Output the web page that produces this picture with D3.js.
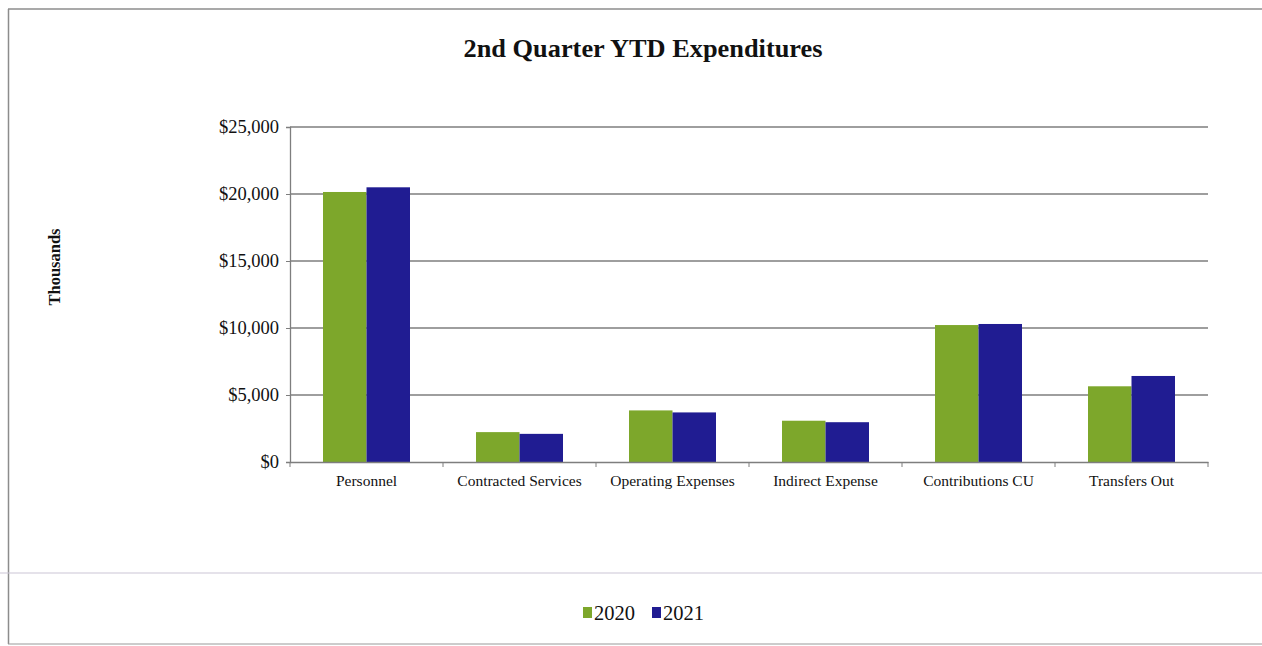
<!DOCTYPE html>
<html>
<head>
<meta charset="utf-8">
<script src="https://cdn.jsdelivr.net/npm/d3@7"></script>
<style>
  html, body { margin: 0; padding: 0; background: #ffffff; }
  svg { display: block; }
  text { font-family: "Liberation Serif", "Times New Roman", serif; fill: #111; }
</style>
</head>
<body>
<svg id="chart" width="1262" height="646"></svg>
<script>
// Expenditure categories and year-to-date totals (in thousands of dollars)
const categories = ["Personnel", "Contracted Services", "Operating Expenses", "Indirect Expense", "Contributions CU", "Transfers Out"];
const seriesNames = ["2020", "2021"];
const values2020 = [20150, 2230, 3850, 3080, 10220, 5650];
const values2021 = [20500, 2100, 3700, 2970, 10300, 6420];
const yTicks = [0, 5000, 10000, 15000, 20000, 25000];
const colors = ["#7da72b", "#201c92"];

const svg = d3.select("#chart");
const W = 1262, H = 646;

// Outer frame and legend separator
svg.append("line").attr("x1", 8).attr("x2", W).attr("y1", 9).attr("y2", 9)
  .attr("stroke", "#8c8c8c").attr("stroke-width", 1.5);
svg.append("line").attr("x1", 8.5).attr("x2", 8.5).attr("y1", 9).attr("y2", 644)
  .attr("stroke", "#8c8c8c").attr("stroke-width", 1.5);
svg.append("line").attr("x1", 8).attr("x2", W).attr("y1", 644).attr("y2", 644)
  .attr("stroke", "#9a9a9a").attr("stroke-width", 1.2);
svg.append("line").attr("x1", 0).attr("x2", W).attr("y1", 573).attr("y2", 573)
  .attr("stroke", "#cbc6d6").attr("stroke-width", 1.2);

const plot = { left: 290, right: 1208, top: 127, bottom: 462 };

const x0 = d3.scaleBand().domain(categories).range([plot.left, plot.right]).padding(0);
const groupW = 87;
const x1 = d3.scaleBand().domain(seriesNames).range([0, groupW]).padding(0);
const y = d3.scaleLinear().domain([0, 25000]).range([plot.bottom, plot.top]);

// Horizontal gridlines
svg.append("g").selectAll("line").data(yTicks.filter(d => d > 0)).join("line")
  .attr("x1", plot.left).attr("x2", plot.right)
  .attr("y1", d => y(d)).attr("y2", d => y(d))
  .attr("stroke", "#7e7e7e").attr("stroke-width", 1.3);

// Y axis
const yAxis = d3.axisLeft(y).tickValues(yTicks).tickSize(4).tickPadding(7)
  .tickFormat(d => "$" + d3.format(",")(d));
const gy = svg.append("g").attr("transform", `translate(${plot.left},0)`).call(yAxis);
gy.select(".domain").attr("stroke", "#7e7e7e").attr("stroke-width", 1.3);
gy.selectAll(".tick line").attr("stroke", "#7e7e7e");
gy.selectAll(".tick text").attr("font-size", 18.5).attr("fill", "#111")
  .style("font-family", "'Liberation Serif', serif");

// Bars
const data = categories.map((c, i) => ({ category: c, vals: [values2020[i], values2021[i]] }));
const groups = svg.append("g").selectAll("g").data(data).join("g")
  .attr("transform", d => `translate(${x0(d.category) + (x0.bandwidth() - groupW) / 2},0)`);
groups.selectAll("rect").data(d => d.vals.map((v, j) => ({ key: seriesNames[j], v, j }))).join("rect")
  .attr("x", d => x1(d.key))
  .attr("width", x1.bandwidth())
  .attr("y", d => y(d.v))
  .attr("height", d => y(0) - y(d.v))
  .attr("fill", d => colors[d.j]);

// X axis
const xAxis = d3.axisBottom(x0).tickSize(0).tickPadding(13);
const gx = svg.append("g").attr("transform", `translate(0,${plot.bottom})`).call(xAxis);
gx.select(".domain").attr("stroke", "#7e7e7e").attr("stroke-width", 1.3);
gx.selectAll(".tick text").attr("font-size", 15.5).attr("fill", "#111")
  .style("font-family", "'Liberation Serif', serif");
// Category boundary tick marks
gx.append("g").selectAll("line").data(categories.map(c => x0(c)).concat([plot.right])).join("line")
  .attr("x1", d => d).attr("x2", d => d).attr("y1", 0).attr("y2", 5)
  .attr("stroke", "#7e7e7e");

// Title
svg.append("text").attr("x", 643).attr("y", 57).attr("text-anchor", "middle")
  .attr("font-size", 25).attr("font-weight", "bold")
  .attr("textLength", 359).attr("lengthAdjust", "spacingAndGlyphs")
  .text("2nd Quarter YTD Expenditures");

// Y axis title
svg.append("text").attr("transform", "translate(60,267) rotate(-90)")
  .attr("text-anchor", "middle").attr("font-size", 16.5).attr("font-weight", "bold")
  .text("Thousands");

// Legend
const legend = svg.append("g").attr("transform", "translate(583,612)");
const legendItems = legend.selectAll("g").data(seriesNames).join("g")
  .attr("transform", (d, i) => `translate(${i * 69},0)`);
legendItems.append("rect").attr("x", 0).attr("y", -5).attr("width", 9).attr("height", 11)
  .attr("fill", (d, i) => colors[i]);
legendItems.append("text").attr("x", 11).attr("y", 8).attr("font-size", 20.5).text(d => d);
</script>
</body>
</html>
